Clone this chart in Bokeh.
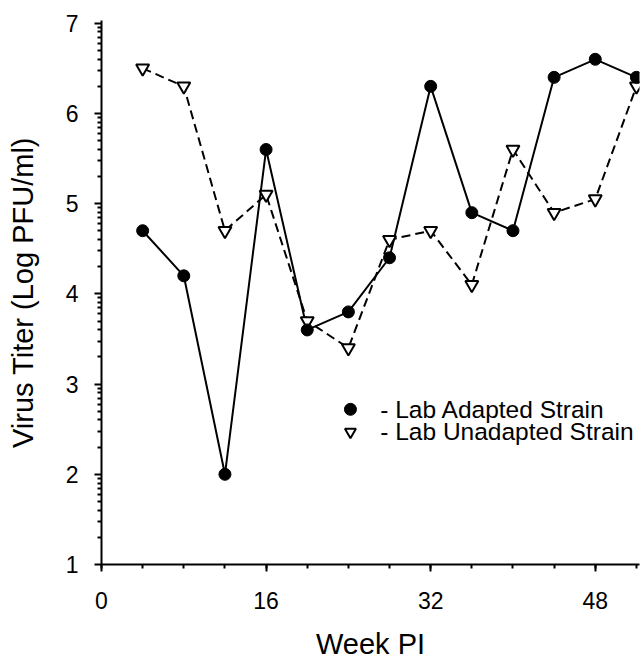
import math
from bokeh.plotting import figure
from bokeh.models import Range1d, FixedTicker, SingleIntervalTicker
from bokeh.core.properties import value
from bokeh.embed import file_html
from bokeh.resources import INLINE

weeks = [4, 8, 12, 16, 20, 24, 28, 32, 36, 40, 44, 48, 52]
adapted = [4.7, 4.2, 2.0, 5.6, 3.6, 3.8, 4.4, 6.3, 4.9, 4.7, 6.4, 6.6, 6.4]
unadapted = [6.5, 6.3, 4.7, 5.1, 3.7, 3.4, 4.6, 4.7, 4.1, 5.6, 4.9, 5.05, 6.3]

y_ticks = [1, 2, 3, 4, 5, 6, 7]

legend_labels = ["- Lab Adapted Strain", "- Lab Unadapted Strain"]

FONT = "Liberation Sans"

p = figure(width=644, height=662, x_range=Range1d(0, 52.3), y_range=Range1d(1, 7.03),
           output_backend="svg", toolbar_location=None,
           min_border_left=101, min_border_right=5, min_border_top=20, min_border_bottom=97)
p.outline_line_color = None
p.xgrid.visible = False
p.ygrid.visible = False
p.background_fill_color = "white"
p.border_fill_color = "white"

# logarithmic minor ticks within each decade
y_minor = [n + math.log10(k) for n in range(1, 7) for k in range(2, 10)]

p.xaxis.ticker = SingleIntervalTicker(interval=16, num_minor_ticks=4)
p.yaxis.ticker = FixedTicker(ticks=y_ticks, minor_ticks=y_minor)

for ax in (p.xaxis[0], p.yaxis[0]):
    ax.axis_line_width = 2
    ax.axis_line_color = "black"
    ax.major_tick_line_width = 2
    ax.minor_tick_line_width = 2
    ax.major_tick_line_color = "black"
    ax.minor_tick_line_color = "black"
    ax.major_label_text_font = FONT
    ax.major_label_text_font_size = "23px"
    ax.major_label_text_color = "black"
    ax.axis_label_text_font = FONT
    ax.axis_label_text_font_size = "29px"
    ax.axis_label_text_font_style = "normal"
    ax.axis_label_text_color = "black"

p.xaxis.major_tick_out = 7
p.xaxis.major_tick_in = 0
p.xaxis.minor_tick_out = 4
p.xaxis.minor_tick_in = 0
p.xaxis.major_label_standoff = 20
p.xaxis.axis_label = "Week PI"
p.xaxis.axis_label_standoff = 16

p.yaxis.major_tick_out = 7
p.yaxis.major_tick_in = 0
p.yaxis.minor_tick_out = 4
p.yaxis.minor_tick_in = 0
p.yaxis.major_label_standoff = 16
p.yaxis.axis_label = "Virus Titer (Log PFU/ml)"
p.yaxis.axis_label_standoff = 24

# lines
p.line(weeks, unadapted, line_color="black", line_width=2, line_dash="9 5")
p.line(weeks, adapted, line_color="black", line_width=2)

# markers
p.scatter(weeks, unadapted, marker="inverted_triangle", size=13,
          fill_color="white", line_color="black", line_width=2)
p.scatter(weeks, adapted, marker="circle", size=12,
          fill_color="black", line_color="black")

# legend (manual)
p.scatter([24.2], [2.72], marker="circle", size=12, fill_color="black", line_color="black")
p.scatter([24.2], [2.47], marker="inverted_triangle", size=11,
          fill_color="white", line_color="black", line_width=2)
p.text([27.1, 27.1], [2.72, 2.47], text=legend_labels, text_font=value(FONT),
       text_font_size="24.5px", text_baseline="middle", text_align="left", text_color="black")

open("out.html", "w").write(file_html(p, INLINE))
